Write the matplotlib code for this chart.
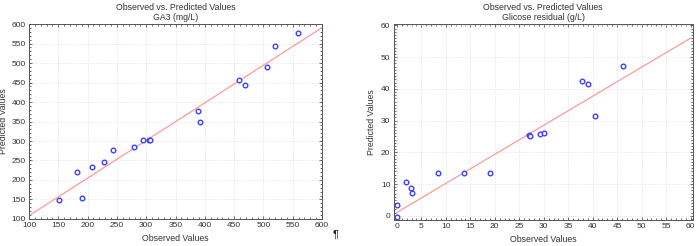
import matplotlib
matplotlib.use("Agg")
import matplotlib.pyplot as plt
import numpy as np
from matplotlib.ticker import MultipleLocator

# GA3 (mg/L)
ga3_obs = [151, 182, 190, 207, 228, 243, 279, 295, 305, 307, 388, 391, 459, 469, 506, 519, 559]
ga3_pred = [149, 220, 154, 234, 246, 278, 285, 303, 303, 303, 377, 350, 456, 444, 491, 545, 576]
ga3_fit = [108.5, 591]   # line at x = 100 and x = 600

# Glicose residual (g/L)
gli_obs = [0, 0, 1.9, 2.9, 3.0, 8.4, 13.8, 19.0, 27.0, 27.2, 29.2, 30.0, 37.8, 39.0, 40.5, 46.2]
gli_pred = [3.5, -0.3, 10.5, 8.9, 7.2, 13.6, 13.6, 13.6, 25.4, 25.1, 25.9, 26.0, 42.4, 41.6, 31.6, 47.2]
gli_fit = [1.05, 56.0]   # line at x = 0 and x = 60

plt.rcParams['font.family'] = ['Liberation Sans', 'DejaVu Sans']

fig = plt.figure(figsize=(6.96, 2.46), dpi=100)
ax1 = fig.add_axes([0.0417, 0.110, 0.421, 0.792])
ax2 = fig.add_axes([0.566, 0.106, 0.429, 0.796])


def style(ax, title, xlim, ylim, step, minor, ylab_x):
    ax.set_xlim(*xlim)
    ax.set_ylim(*ylim)
    ax.xaxis.set_major_locator(MultipleLocator(step))
    ax.yaxis.set_major_locator(MultipleLocator(step))
    ax.xaxis.set_minor_locator(MultipleLocator(minor))
    ax.yaxis.set_minor_locator(MultipleLocator(minor))
    ax.tick_params(which='both', direction='in', top=True, right=True,
                   labelsize=6, colors='#333333', length=2, width=0.5, pad=2.5)
    ax.tick_params(which='minor', length=1.2)
    ax.grid(True, which='major', color='#dddddd', linestyle=':', linewidth=0.6)
    for s in ax.spines.values():
        s.set_color('#555555')
        s.set_linewidth(0.7)
    ax.set_title(title, fontsize=6.3, color='#333333', pad=3, linespacing=1.15)
    ax.set_xlabel("Observed Values", fontsize=6.3, color='#333333', labelpad=3)
    ax.set_ylabel("Predicted Values", fontsize=6.3, color='#333333')
    ax.yaxis.set_label_coords(ylab_x, 0.5)


ax1.plot([100, 600], ga3_fit, color='#ff9a9a', linewidth=0.9)
ax1.plot(ga3_obs, ga3_pred, 'o', markersize=3.3, markerfacecolor='white',
         markeredgecolor='#4040ff', markeredgewidth=1.0)
style(ax1, "Observed vs. Predicted Values\nGA3 (mg/L)", (100, 600), (100, 600), 50, 10, -0.071)

ax2.plot([0, 60], gli_fit, color='#ff9a9a', linewidth=0.9)
ax2.plot(gli_obs, gli_pred, 'o', markersize=3.3, markerfacecolor='white',
         markeredgecolor='#4040ff', markeredgewidth=1.0)
style(ax2, "Observed vs. Predicted Values\nGlicose residual (g/L)", (-0.6, 60.4), (-1.3, 60.4), 10, 1, -0.06)
ax2.xaxis.set_major_locator(MultipleLocator(5))

fig.text(0.478, 0.033, "\u00b6", fontsize=8, color='#222222')

fig.savefig("out.png", dpi=100)
